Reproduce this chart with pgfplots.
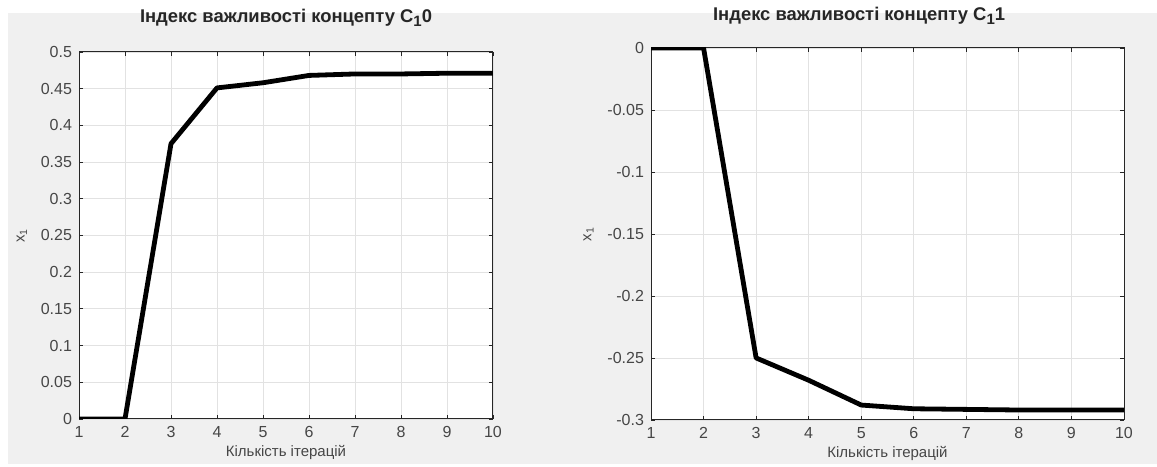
\documentclass[border=0pt]{standalone}
\usepackage{fontspec}
\setmainfont{Liberation Sans}
\usepackage{pgfplots}
\pgfplotsset{compat=1.18}
\definecolor{figbg}{RGB}{240,240,240}
\definecolor{axc}{RGB}{38,38,38}
\definecolor{tlc}{RGB}{70,70,70}
\definecolor{gridc}{RGB}{226,226,226}
\newcommand{\sub}[1]{\raisebox{-0.5ex}{\fontsize{7.5}{8}\selectfont #1}}
\pgfplotsset{
  mlab/.style={
    scale only axis,
    anchor=south west,
    axis background/.style={fill=white},
    axis line style={axc, line width=0.5pt},
    xmin=1, xmax=10,
    xtick={1,...,10},
    xticklabels={1,2,3,4,5,6,7,8,9,10},
    grid=major,
    major grid style={gridc, line width=0.4pt},
    tick style={axc, line width=0.4pt},
    major tick length=2pt,
    tick align=inside,
    xtick pos=both, ytick pos=both,
    tick label style={font=\fontsize{8}{9}\selectfont, text=tlc},
    label style={font=\fontsize{7.5}{9}\selectfont, text=tlc},
    title style={font=\bfseries\fontsize{9.2}{11}\selectfont, text=axc, anchor=south, yshift=3pt},
    xlabel={Кількість ітерацій},
    ylabel={x\textsubscript{1}},
    xlabel style={yshift=3pt},
  }
}
\begin{document}
\begin{tikzpicture}
\fill[white] (0,0) rectangle (578.5pt,-230.5pt);
\fill[figbg] (4pt,-5pt) rectangle (578.5pt,-230.5pt);
\begin{axis}[mlab,
  at={(39.5pt,-208pt)},
  width=207pt, height=183.5pt,
  ymin=0, ymax=0.5,
  ytick={0,0.05,...,0.5},
  yticklabels={0,0.05,0.1,0.15,0.2,0.25,0.3,0.35,0.4,0.45,0.5},
  title={Індекс важливості концепту C\sub{1}0},
]
\addplot[black, line width=2.4pt, line join=round, no markers] coordinates {(1,0) (2,0) (3,0.375) (4,0.451) (5,0.458) (6,0.468) (7,0.470) (8,0.470) (9,0.471) (10,0.471)};
\end{axis}
\begin{axis}[mlab,
  at={(325.5pt,-208.5pt)},
  width=236.5pt, height=186pt,
  ymin=-0.3, ymax=0,
  ytick={-0.3,-0.25,...,0},
  yticklabels={-0.3,-0.25,-0.2,-0.15,-0.1,-0.05,0},
  title={Індекс важливості концепту C\sub{1}1},
  title style={at={(0.44,1)}, yshift=-1pt},
]
\addplot[black, line width=2.4pt, line join=round, no markers] coordinates {(1,0) (2,0) (3,-0.250) (4,-0.268) (5,-0.288) (6,-0.291) (7,-0.2915) (8,-0.292) (9,-0.292) (10,-0.292)};
\end{axis}
\end{tikzpicture}
\end{document}
